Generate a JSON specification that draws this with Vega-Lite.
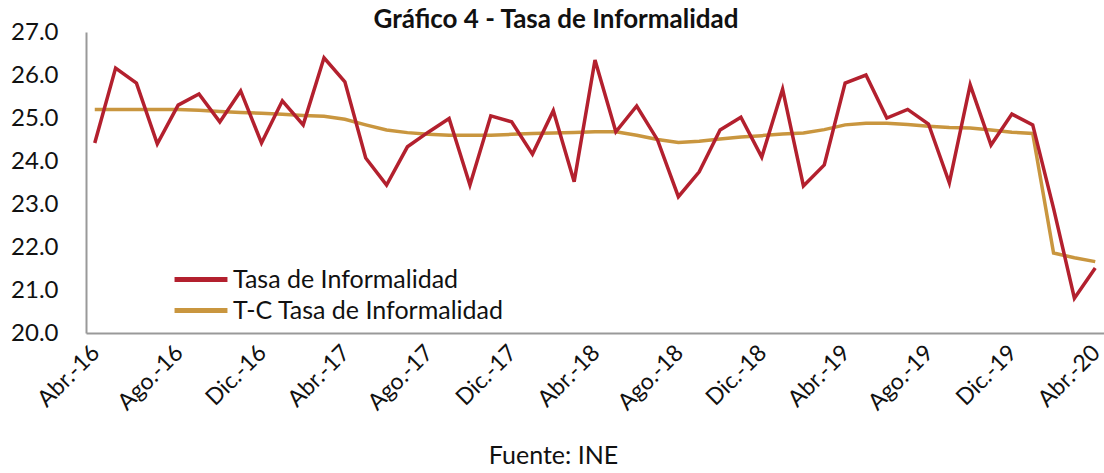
{
  "$schema": "https://vega.github.io/schema/vega-lite/v6.json",
  "autosize": {"type": "none"},
  "padding": {"left": 86, "top": 32, "right": 0, "bottom": 140},
  "width": 1018,
  "height": 301,
  "background": "white",
  "config": {"view": {"stroke": null}, "font": "Lato"},
  "title": {"text": "Gráfico 4 - Tasa de Informalidad", "fontSize": 26, "font": "Lato", "fontWeight": "bold", "color": "#111", "anchor": "middle", "offset": -13, "dx": -39},
  "data": {"values": [
    {"mes": "Abr.-16", "tasa": 24.42, "tc": 25.20},
    {"mes": "May.-16", "tasa": 26.16, "tc": 25.20},
    {"mes": "Jun.-16", "tasa": 25.81, "tc": 25.20},
    {"mes": "Jul.-16", "tasa": 24.40, "tc": 25.20},
    {"mes": "Ago.-16", "tasa": 25.30, "tc": 25.20},
    {"mes": "Sep.-16", "tasa": 25.56, "tc": 25.18},
    {"mes": "Oct.-16", "tasa": 24.91, "tc": 25.15},
    {"mes": "Nov.-16", "tasa": 25.63, "tc": 25.13},
    {"mes": "Dic.-16", "tasa": 24.42, "tc": 25.11},
    {"mes": "Ene.-17", "tasa": 25.40, "tc": 25.09},
    {"mes": "Feb.-17", "tasa": 24.84, "tc": 25.06},
    {"mes": "Mar.-17", "tasa": 26.40, "tc": 25.04},
    {"mes": "Abr.-17", "tasa": 25.84, "tc": 24.97},
    {"mes": "May.-17", "tasa": 24.07, "tc": 24.84},
    {"mes": "Jun.-17", "tasa": 23.44, "tc": 24.72},
    {"mes": "Jul.-17", "tasa": 24.33, "tc": 24.66},
    {"mes": "Ago.-17", "tasa": 24.67, "tc": 24.62},
    {"mes": "Sep.-17", "tasa": 24.99, "tc": 24.60},
    {"mes": "Oct.-17", "tasa": 23.44, "tc": 24.60},
    {"mes": "Nov.-17", "tasa": 25.05, "tc": 24.60},
    {"mes": "Dic.-17", "tasa": 24.91, "tc": 24.62},
    {"mes": "Ene.-18", "tasa": 24.16, "tc": 24.64},
    {"mes": "Feb.-18", "tasa": 25.17, "tc": 24.65},
    {"mes": "Mar.-18", "tasa": 23.52, "tc": 24.66},
    {"mes": "Abr.-18", "tasa": 26.35, "tc": 24.68},
    {"mes": "May.-18", "tasa": 24.68, "tc": 24.68},
    {"mes": "Jun.-18", "tasa": 25.28, "tc": 24.60},
    {"mes": "Jul.-18", "tasa": 24.49, "tc": 24.50},
    {"mes": "Ago.-18", "tasa": 23.17, "tc": 24.43},
    {"mes": "Sep.-18", "tasa": 23.75, "tc": 24.46},
    {"mes": "Oct.-18", "tasa": 24.72, "tc": 24.51},
    {"mes": "Nov.-18", "tasa": 25.02, "tc": 24.56},
    {"mes": "Dic.-18", "tasa": 24.09, "tc": 24.59},
    {"mes": "Ene.-19", "tasa": 25.67, "tc": 24.63},
    {"mes": "Feb.-19", "tasa": 23.42, "tc": 24.65},
    {"mes": "Mar.-19", "tasa": 23.91, "tc": 24.73},
    {"mes": "Abr.-19", "tasa": 25.81, "tc": 24.84},
    {"mes": "May.-19", "tasa": 26.00, "tc": 24.88},
    {"mes": "Jun.-19", "tasa": 25.00, "tc": 24.88},
    {"mes": "Jul.-19", "tasa": 25.20, "tc": 24.85},
    {"mes": "Ago.-19", "tasa": 24.86, "tc": 24.81},
    {"mes": "Sep.-19", "tasa": 23.49, "tc": 24.78},
    {"mes": "Oct.-19", "tasa": 25.77, "tc": 24.77},
    {"mes": "Nov.-19", "tasa": 24.37, "tc": 24.72},
    {"mes": "Dic.-19", "tasa": 25.09, "tc": 24.67},
    {"mes": "Ene.-20", "tasa": 24.84, "tc": 24.64},
    {"mes": "Feb.-20", "tasa": 22.90, "tc": 21.86},
    {"mes": "Mar.-20", "tasa": 20.81, "tc": 21.75},
    {"mes": "Abr.-20", "tasa": 21.51, "tc": 21.66}
  ]},
  "transform": [{"fold": ["tc", "tasa"], "as": ["serie", "valor"]}],
  "mark": {"type": "line", "strokeWidth": 3.5, "strokeJoin": "miter"},
  "encoding": {
    "x": {
      "field": "mes", "type": "ordinal", "sort": null,
      "scale": {"type": "point", "padding": 0.42},
      "axis": {
        "values": ["Abr.-16", "Ago.-16", "Dic.-16", "Abr.-17", "Ago.-17", "Dic.-17", "Abr.-18", "Ago.-18", "Dic.-18", "Abr.-19", "Ago.-19", "Dic.-19", "Abr.-20"],
        "labelAngle": -45, "labelFontSize": 23, "labelColor": "#111", "labelPadding": 8, "labelOffset": -7,
        "ticks": false, "domainColor": "#999", "domainWidth": 2,
        "title": "Fuente: INE", "titleFontSize": 25, "titleFontWeight": "normal", "titleColor": "#111", "titlePadding": 29, "titleX": 467
      }
    },
    "y": {
      "field": "valor", "type": "quantitative",
      "scale": {"domain": [20, 27], "nice": false, "zero": false},
      "axis": {
        "values": [20, 21, 22, 23, 24, 25, 26, 27], "format": ".1f",
        "labelFontSize": 24, "labelColor": "#111", "labelPadding": 28,
        "ticks": false, "grid": false, "domainColor": "#999", "domainWidth": 2, "title": null
      }
    },
    "color": {
      "field": "serie", "type": "nominal",
      "scale": {"domain": ["tasa", "tc"], "range": ["#B3202E", "#C9963F"]},
      "legend": {
        "title": null, "orient": "none", "legendX": 86, "legendY": 232,
        "labelExpr": "datum.value == 'tasa' ? 'Tasa de Informalidad' : 'T-C Tasa de Informalidad'",
        "labelFontSize": 25, "labelColor": "#111", "labelOffset": 3, "labelLimit": 500,
        "symbolType": "stroke", "symbolSize": 2800, "symbolStrokeWidth": 5, "rowPadding": 0, "clipHeight": 31
      }
    }
  }
}
